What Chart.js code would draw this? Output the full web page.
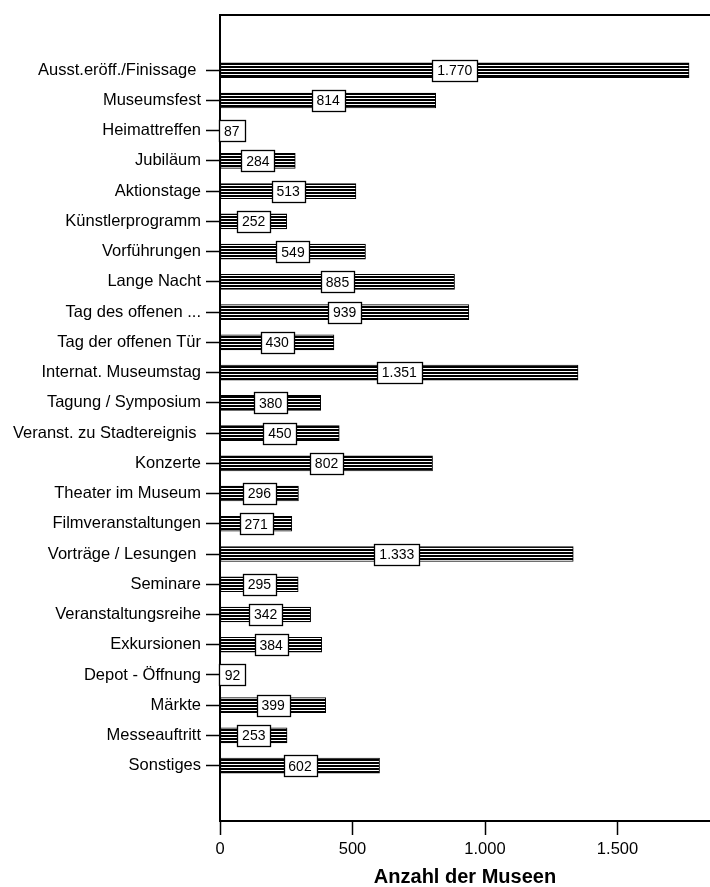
<!DOCTYPE html>
<html>
<head>
<meta charset="utf-8">
<script src="https://cdn.jsdelivr.net/npm/chart.js@4.4.1/dist/chart.umd.min.js"></script>
<style>
  html, body { margin: 0; padding: 0; background: #fff; }
  #wrap { width: 710px; height: 887px; }
</style>
</head>
<body>
<div id="wrap"><canvas id="c" width="710" height="887"></canvas></div>
<script>
const categories = [
  'Ausst.eröff./Finissage ', 'Museumsfest', 'Heimattreffen', 'Jubiläum', 'Aktionstage',
  'Künstlerprogramm', 'Vorführungen', 'Lange Nacht', 'Tag des offenen ...', 'Tag der offenen Tür',
  'Internat. Museumstag', 'Tagung / Symposium', 'Veranst. zu Stadtereignis ', 'Konzerte',
  'Theater im Museum', 'Filmveranstaltungen', 'Vorträge / Lesungen ', 'Seminare',
  'Veranstaltungsreihe', 'Exkursionen', 'Depot - Öffnung', 'Märkte', 'Messeauftritt', 'Sonstiges'
];
const museums = [
  1770, 814, 87, 284, 513, 252, 549, 885, 939, 430, 1351, 380, 450, 802,
  296, 271, 1333, 295, 342, 384, 92, 399, 253, 602
];
const xTicks = [0, 500, 1000, 1500];
const xTitle = 'Anzahl der Museen';

const FONT = "'Liberation Sans', Arial, sans-serif";

function fmt(v) {
  return String(v).replace(/\B(?=(\d{3})+(?!\d))/g, '.');
}

// horizontal line hatch like the original print pattern
function hatch() {
  const p = document.createElement('canvas');
  p.width = 4; p.height = 3;
  const g = p.getContext('2d');
  g.fillStyle = '#fff';
  g.fillRect(0, 0, 4, 3);
  g.fillStyle = '#000';
  g.fillRect(0, 0, 4, 2);
  return g.createPattern(p, 'repeat');
}

const ctx = document.getElementById('c').getContext('2d');

const valueBoxes = {
  id: 'valueBoxes',
  afterDatasetsDraw(chart) {
    const c = chart.ctx;
    const meta = chart.getDatasetMeta(0);
    c.save();
    c.font = '14px ' + FONT;
    c.textAlign = 'center';
    c.textBaseline = 'middle';
    meta.data.forEach((el, i) => {
      const txt = fmt(museums[i]);
      const w = Math.round(c.measureText(txt).width + 10);
      const h = 21;
      const cx = (el.base + el.x) / 2;
      const left = Math.round(cx - w / 2) + 0.5;
      const top = Math.round(el.y - h / 2) + 0.5;
      c.fillStyle = '#fff';
      c.fillRect(left, top, w, h);
      c.strokeStyle = '#000';
      c.lineWidth = 1.3;
      c.strokeRect(left, top, w, h);
      c.fillStyle = '#000';
      c.fillText(txt, cx, el.y + 1);
    });
    c.restore();
  }
};

const frame = {
  id: 'frame',
  afterDraw(chart) {
    const a = chart.chartArea;
    const c = chart.ctx;
    c.save();
    c.strokeStyle = '#000';
    c.lineWidth = 2;
    c.beginPath();
    c.moveTo(a.left, a.top);
    c.lineTo(a.right, a.top);
    c.stroke();
    c.restore();
  }
};

new Chart(ctx, {
  type: 'bar',
  data: {
    datasets: [{
      data: museums.map((v, i) => ({ x: v, y: i })),
      backgroundColor: hatch(),
      borderColor: '#000',
      borderWidth: 1,
      borderSkipped: false,
      barThickness: 15
    }]
  },
  options: {
    indexAxis: 'y',
    responsive: false,
    devicePixelRatio: 1,
    animation: false,
    layout: { padding: { top: 14, right: 0, left: 0, bottom: 0 } },
    plugins: {
      legend: { display: false },
      tooltip: { enabled: false }
    },
    scales: {
      x: {
        type: 'linear',
        min: 0,
        max: 1849,
        afterFit: (s) => { s.height = 66; },
        afterBuildTicks: (s) => { s.ticks = xTicks.map(v => ({ value: v })); },
        grid: { drawOnChartArea: false, drawTicks: true, tickLength: 14, tickColor: '#000', tickWidth: 1.5 },
        border: { display: true, color: '#000', width: 2 },
        ticks: {
          color: '#000',
          padding: 5,
          font: { family: FONT, size: 16.5 },
          callback: (v) => fmt(v)
        },
        title: {
          display: true,
          text: xTitle,
          color: '#000',
          font: { family: FONT, size: 20, weight: 'bold', lineHeight: 1 },
          padding: { top: 0, bottom: 0 }
        }
      },
      y: {
        type: 'linear',
        reverse: true,
        offset: false,
        min: -1.83,
        max: 24.83,
        afterFit: (s) => { s.width = 220; },
        afterBuildTicks: (s) => { s.ticks = categories.map((_, i) => ({ value: i })); },
        grid: { offset: false, drawOnChartArea: false, drawTicks: true, tickLength: 14, tickColor: '#000', tickWidth: 1.5 },
        border: { display: true, color: '#000', width: 2 },
        ticks: {
          color: '#000',
          padding: 5,
          autoSkip: false,
          font: { family: FONT, size: 16.5 },
          callback: (v) => categories[v] || ''
        }
      }
    }
  },
  plugins: [valueBoxes, frame]
});
</script>
</body>
</html>
